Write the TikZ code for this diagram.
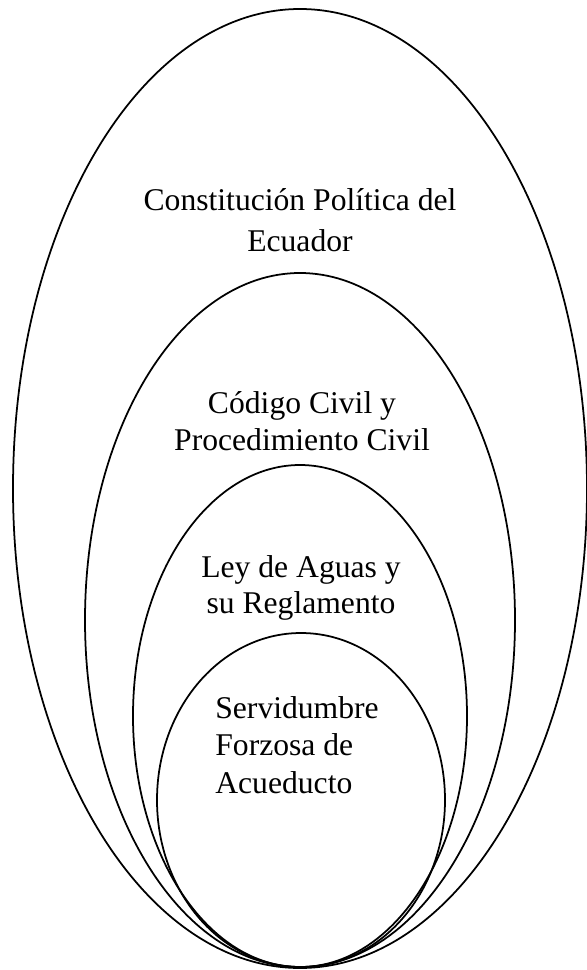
\documentclass[tikz,border=0pt]{standalone}
\usepackage{fontspec}
\setmainfont{Liberation Serif}
\tikzset{
  ring/.style={draw=black, line width=1pt},
  lbl/.style={anchor=base, inner sep=0pt, font=\fontsize{18}{21}\selectfont},
  lblleft/.style={lbl, anchor=base west}
}
\begin{document}
\begin{tikzpicture}[x=0.02cm, y=-0.02cm]
      \useasboundingbox (0, 0) rectangle (586, 970);
      \draw[ring] (300, 488.5) ellipse [x radius=287, y radius=479.5];
      \draw[ring] (300, 620) ellipse [x radius=215, y radius=347];
      \draw[ring] (300, 716) ellipse [x radius=167, y radius=251];
      \draw[ring] (301, 800) ellipse [x radius=144, y radius=167];
      \node[lbl] (cons1) at (300, 210) {Constitución Política del};
      \node[lbl] (cons2) at (300, 251) {Ecuador};
      \node[lbl] (civ1) at (302, 413) {Código Civil y};
      \node[lbl] (civ2) at (302, 450) {Procedimiento Civil};
      \node[lbl] (ley1) at (301, 577) {Ley de Aguas y};
      \node[lbl] (ley2) at (301, 613) {su Reglamento};
      \node[lblleft] (serv1) at (215, 718) {Servidumbre};
      \node[lblleft] (serv2) at (215, 755) {Forzosa de};
      \node[lblleft] (serv3) at (215, 793) {Acueducto};
\end{tikzpicture}
\end{document}
